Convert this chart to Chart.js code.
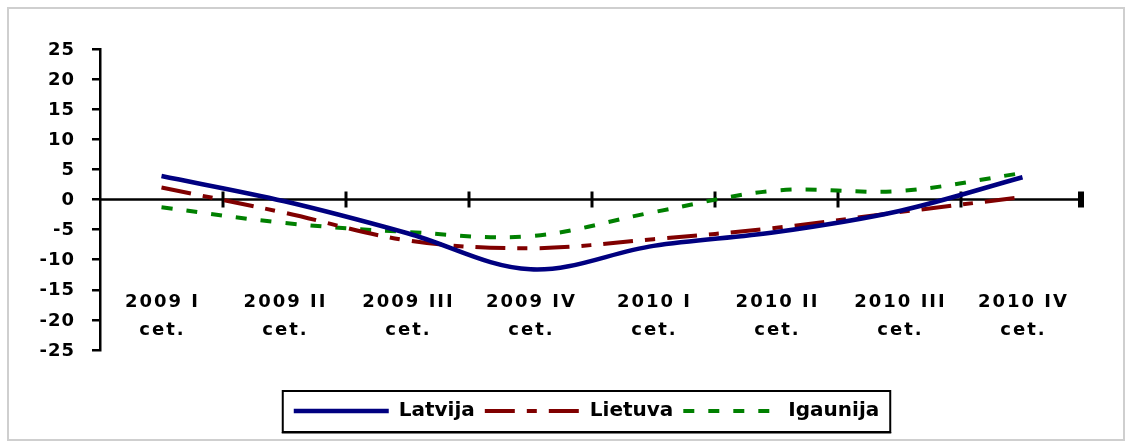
<!DOCTYPE html>
<html>
<head>
<meta charset="utf-8">
<title>Latvija, Lietuva, Igaunija 2009-2010</title>
<script src="https://cdn.jsdelivr.net/npm/chart.js@4.4.1/dist/chart.umd.min.js"></script>
<style>
  html, body { margin: 0; padding: 0; background: #fff; }
  #wrap { width: 1131px; height: 445px; position: relative; }
</style>
</head>
<body>
<div id="wrap"><canvas id="cetChart"></canvas></div>
<script>
const quarters = ["2009 I", "2009 II", "2009 III", "2009 IV", "2010 I", "2010 II", "2010 III", "2010 IV"];
const quarterSuffix = "cet.";

const latvija = [3.9, -0.3, -5.6, -11.6, -7.7, -5.4, -1.9, 3.7];
const lietuva = [2.0, -2.2, -6.8, -8.1, -6.6, -4.7, -2.1, 0.4];
const igaunija = [-1.3, -3.9, -5.4, -6.1, -2.1, 1.5, 1.4, 4.4];

const yMin = -25, yMax = 25, yStep = 5;

const fontFamily = "'DejaVu Sans', 'Liberation Sans', Arial, sans-serif";

// zero axis with its tick marks, tick/category labels and the two frames
const decorations = {
    id: "decorations",
    beforeDraw(chart) {
        const ctx = chart.ctx;
        ctx.save();
        ctx.strokeStyle = "#cfcfcf";
        ctx.lineWidth = 2;
        ctx.strokeRect(8, 8, chart.width - 15, chart.height - 13);
        ctx.restore();
    },
    beforeDatasetsDraw(chart) {
        const {ctx, chartArea, scales: {x, y}} = chart;
        const y0 = y.getPixelForValue(0);
        ctx.save();
        ctx.strokeStyle = "#000";
        ctx.lineWidth = 2.5;
        ctx.beginPath();
        ctx.moveTo(chartArea.left, y0);
        ctx.lineTo(chartArea.right, y0);
        ctx.stroke();
        for (let i = 1; i <= quarters.length; i++) {
            const px = x.getPixelForValue(i - 0.5);
            const last = i === quarters.length;
            ctx.lineWidth = last ? 6 : 3;
            ctx.beginPath();
            ctx.moveTo(last ? px - 3 : px, y0 - 8);
            ctx.lineTo(last ? px - 3 : px, y0 + 8);
            ctx.stroke();
        }

        ctx.fillStyle = "#000";
        ctx.font = "bold 18px " + fontFamily;

        // y tick labels
        ctx.letterSpacing = "1px";
        ctx.textAlign = "right";
        ctx.textBaseline = "middle";
        y.ticks.forEach(t => {
            ctx.fillText(String(t.value), chartArea.left - 25, y.getPixelForValue(t.value) + 1);
        });

        // category labels
        ctx.letterSpacing = "2px";
        ctx.textAlign = "center";
        ctx.textBaseline = "alphabetic";
        quarters.forEach((q, i) => {
            const px = x.getPixelForValue(i) + 1;
            ctx.fillText(q, px, chartArea.bottom - 43);
            ctx.fillText(quarterSuffix, px, chartArea.bottom - 15);
        });
        ctx.restore();
    },
    afterDraw(chart) {
        const boxes = chart.legend.legendHitBoxes;
        if (!boxes || !boxes.length) return;
        const ctx = chart.ctx;
        const first = boxes[0];
        const last = boxes[boxes.length - 1];
        const cy = first.top + first.height / 2;
        const left = first.left - 11;
        const right = last.left + last.width + 11;
        ctx.save();
        ctx.strokeStyle = "#000";
        ctx.lineWidth = 2;
        ctx.strokeRect(left, cy - 20, right - left, 41);
        ctx.fillStyle = "#000";
        ctx.fillRect(left - 1, cy + 21, right - left + 2, 1.5);
        ctx.restore();
    }
};

const ctx = document.getElementById("cetChart").getContext("2d");

const cetChart = new Chart(ctx, {
    type: "line",
    data: {
        labels: quarters,
        datasets: [{
            label: "Latvija",
            data: latvija,
            borderColor: "#000080",
            backgroundColor: "#000080",
            borderWidth: 4.5,
        }, {
            label: "Lietuva",
            data: lietuva,
            borderColor: "#800000",
            backgroundColor: "#800000",
            borderWidth: 4,
            borderDash: [30, 12, 10, 12],
        }, {
            label: "Igaunija",
            data: igaunija,
            borderColor: "#008000",
            backgroundColor: "#008000",
            borderWidth: 4,
            borderDash: [11, 14],
        }],
    },
    options: {
        responsive: true,
        maintainAspectRatio: false,
        animation: false,
        elements: {
            point: { radius: 0, hoverRadius: 0 },
            line: { tension: 0.35, fill: false },
        },
        layout: {
            padding: { left: 89, right: 47, top: 49, bottom: 14 },
        },
        scales: {
            x: {
                display: false,
                offset: true,
            },
            y: {
                min: yMin,
                max: yMax,
                ticks: {
                    stepSize: yStep,
                    display: false,
                },
                grid: {
                    drawOnChartArea: false,
                    drawTicks: true,
                    tickLength: 8,
                    color: "#000",
                    lineWidth: 2.5,
                },
                border: { display: true, color: "#000", width: 2.5 },
                afterFit(scale) {
                    scale.width = 11;
                },
            },
        },
        plugins: {
            tooltip: { enabled: false },
            legend: {
                display: true,
                position: "bottom",
                title: {
                    display: true,
                    text: "",
                    font: { size: 20 },
                    padding: { top: 8.5, bottom: 8.5 },
                },
                labels: {
                    usePointStyle: true,
                    pointStyle: "line",
                    pointStyleWidth: 95,
                    padding: 10,
                    color: "#000",
                    font: { family: fontFamily, size: 20, weight: "bold" },
                    generateLabels(chart) {
                        const items = Chart.defaults.plugins.legend.labels.generateLabels(chart);
                        items.forEach(item => {
                            const ds = chart.data.datasets[item.datasetIndex];
                            item.lineDash = ds.borderDash || [];
                            item.lineWidth = ds.borderWidth;
                        });
                        return items;
                    },
                },
            },
        },
    },
    plugins: [decorations],
});
</script>
</body>
</html>
